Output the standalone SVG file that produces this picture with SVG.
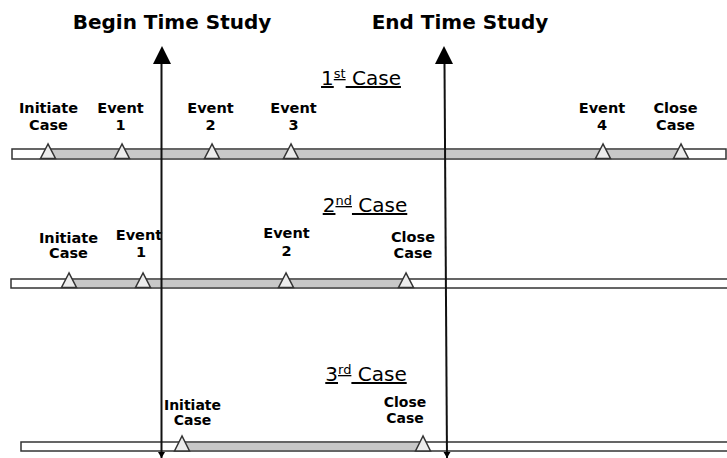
<svg xmlns="http://www.w3.org/2000/svg" width="727" height="458" viewBox="0 0 727 458">
<style>
.bar{fill:#fff;stroke:#333;stroke-width:1.5}
.fill{fill:#c8c8c8;stroke:none}
.tri{fill:#ececec;stroke:#333;stroke-width:1.5;stroke-linejoin:miter}
.title{font-family:"DejaVu Sans",Verdana,sans-serif;font-weight:bold;font-size:20px;fill:#000;text-anchor:middle}
.case{font-family:"DejaVu Sans",Verdana,sans-serif;font-size:20px;fill:#000;text-anchor:middle}
.sup{font-size:13px}
.lbl{font-family:"DejaVu Sans",Verdana,sans-serif;font-weight:bold;font-size:14.5px;fill:#000;text-anchor:middle}
.lbl3{font-family:"DejaVu Sans",Verdana,sans-serif;font-weight:bold;font-size:14px;fill:#000;text-anchor:middle}
.vline{stroke:#111;stroke-width:2;fill:none}
</style>

<g id="titles">
<text class="title" x="172" y="29">Begin Time Study</text>
<text class="title" x="460" y="29">End Time Study</text>
</g>

<g id="case1">
<rect class="bar" x="12" y="149" width="714" height="10"/>
<rect class="fill" x="48" y="150" width="633" height="8"/>
<text class="case" x="361" y="85" text-decoration="underline">1<tspan class="sup" dy="-7">st</tspan><tspan dy="7"> Case</tspan></text>
<polygon class="tri" points="48,144 40.5,158.5 55.5,158.5"/>
<polygon class="tri" points="122,144 114.5,158.5 129.5,158.5"/>
<polygon class="tri" points="212,144 204.5,158.5 219.5,158.5"/>
<polygon class="tri" points="291,144 283.5,158.5 298.5,158.5"/>
<polygon class="tri" points="603,144 595.5,158.5 610.5,158.5"/>
<polygon class="tri" points="681,144 673.5,158.5 688.5,158.5"/>
<text class="lbl" x="48.5" y="113">Initiate</text><text class="lbl" x="48.5" y="130">Case</text>
<text class="lbl" x="120.5" y="113">Event</text><text class="lbl" x="120.5" y="130">1</text>
<text class="lbl" x="210.5" y="113">Event</text><text class="lbl" x="210.5" y="130">2</text>
<text class="lbl" x="293.5" y="113">Event</text><text class="lbl" x="293.5" y="130">3</text>
<text class="lbl" x="602" y="113">Event</text><text class="lbl" x="602" y="130">4</text>
<text class="lbl" x="675.5" y="113">Close</text><text class="lbl" x="675.5" y="130">Case</text>
</g>

<g id="case2">
<rect class="bar" x="11" y="279" width="718" height="9"/>
<rect class="fill" x="69" y="280" width="337" height="7"/>
<text class="case" x="365" y="212" text-decoration="underline">2<tspan class="sup" dy="-7">nd</tspan><tspan dy="7"> Case</tspan></text>
<polygon class="tri" points="69,273 61.5,287.5 76.5,287.5"/>
<polygon class="tri" points="143,273 135.5,287.5 150.5,287.5"/>
<polygon class="tri" points="286,273 278.5,287.5 293.5,287.5"/>
<polygon class="tri" points="406,273 398.5,287.5 413.5,287.5"/>
<text class="lbl" x="68.5" y="243">Initiate</text><text class="lbl" x="68.5" y="258">Case</text>
<text class="lbl" x="139" y="240">Event</text><text class="lbl" x="141" y="257">1</text>
<text class="lbl" x="286.5" y="238">Event</text><text class="lbl" x="286.5" y="256">2</text>
<text class="lbl" x="413" y="242">Close</text><text class="lbl" x="413" y="258">Case</text>
</g>

<g id="case3">
<rect class="bar" x="21" y="442" width="708" height="9"/>
<rect class="fill" x="182" y="443" width="241" height="7"/>
<text class="case" x="366" y="381" text-decoration="underline">3<tspan class="sup" dy="-7">rd</tspan><tspan dy="7"> Case</tspan></text>
<polygon class="tri" points="182,436 174.5,451 189.5,451"/>
<polygon class="tri" points="423,436 415.5,451 430.5,451"/>
<text class="lbl3" x="192.5" y="410">Initiate</text><text class="lbl3" x="192.5" y="425">Case</text>
<text class="lbl3" x="405" y="407">Close</text><text class="lbl3" x="405" y="423">Case</text>
</g>

<g id="connectors">
<path class="vline" d="M161.5,458 L161.5,64"/>
<polygon points="162,46 153,64 171,64" fill="#000"/>
<path class="vline" d="M447,458 L444.5,64"/>
<polygon points="444,46 435,64 453,64" fill="#000"/>
<polygon points="158,452 165,452 161.5,458" fill="#000"/>
<polygon points="443.5,452 450.5,452 447,458" fill="#000"/>
</g>
</svg>
